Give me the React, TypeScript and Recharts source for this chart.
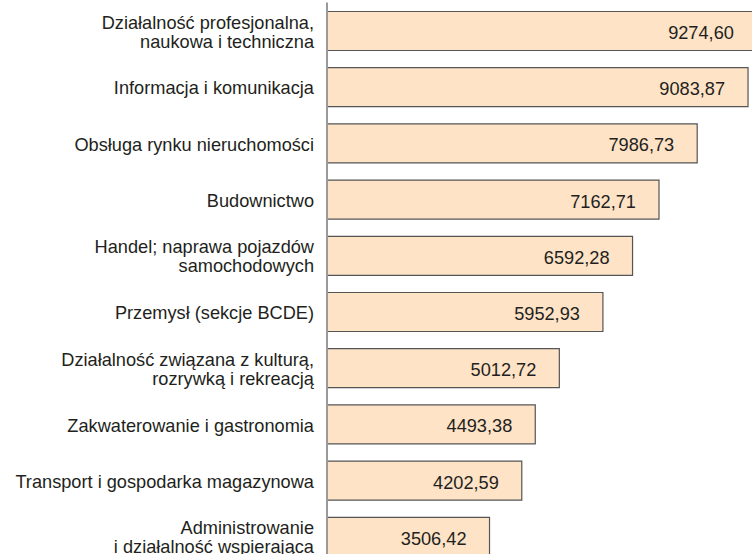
import React from "react";
import { BarChart, Bar, XAxis, YAxis, LabelList } from "recharts";

const categories: string[] = [
  "Działalność profesjonalna,\nnaukowa i techniczna",
  "Informacja i komunikacja",
  "Obsługa rynku nieruchomości",
  "Budownictwo",
  "Handel; naprawa pojazdów\nsamochodowych",
  "Przemysł (sekcje BCDE)",
  "Działalność związana z kulturą,\nrozrywką i rekreacją",
  "Zakwaterowanie i gastronomia",
  "Transport i gospodarka magazynowa",
  "Administrowanie\ni działalność wspierająca",
];

const values: number[] = [9274.6, 9083.87, 7986.73, 7162.71, 6592.28, 5952.93, 5012.72, 4493.38, 4202.59, 3506.42];

const data = categories.map((name, i) => ({ name, value: values[i] }));

const FONT = "'Liberation Sans', Arial, sans-serif";
const TEXT = "#231F20";
const FS = 18.2;
const LH = 19;

const fmt = (v: number) => v.toFixed(2).replace(".", ",");

const CategoryTick = (props: any) => {
  const { x, y, payload } = props;
  const lines: string[] = String(payload.value).split("\n");
  const first = y + FS * 0.36 - ((lines.length - 1) * LH) / 2 + 1;
  return (
    <text x={x} y={first} textAnchor="end" fontFamily={FONT} fontSize={FS} fill={TEXT}>
      {lines.map((l, i) => (
        <tspan key={i} x={x} y={first + i * LH}>
          {l}
        </tspan>
      ))}
    </text>
  );
};

const ValueLabel = (props: any) => {
  const { x, y, width, height, value } = props;
  const tx = Math.min(x + width - 23, 745);
  const ty = y + height / 2 + FS * 0.36 + 1.5;
  return (
    <text x={tx} y={ty} textAnchor="end" fontFamily={FONT} fontSize={FS} fill={TEXT}>
      {fmt(value)}
    </text>
  );
};

export default function App() {
  return (
    <div
      style={{
        position: "fixed",
        top: 0,
        left: 0,
        width: 752,
        height: 554,
        overflow: "hidden",
        background: "#fff",
      }}
    >
      <BarChart
        width={800}
        height={566}
        data={data}
        layout="vertical"
        margin={{ top: 2.5, right: 9.5, bottom: 1.5, left: 0 }}
      >
        <XAxis type="number" domain={[0, 10000]} hide />
        <YAxis
          type="category"
          dataKey="name"
          width={327}
          tickLine={false}
          tickSize={0}
          tickMargin={13}
          axisLine={{ stroke: "#9a9a9a", strokeWidth: 2 }}
          tick={<CategoryTick />}
          interval={0}
        />
        <Bar
          dataKey="value"
          barSize={39}
          fill="#FEE3C7"
          stroke="#555"
          strokeWidth={1.2}
          isAnimationActive={false}
        >
          <LabelList dataKey="value" content={<ValueLabel />} />
        </Bar>
      </BarChart>
    </div>
  );
}
